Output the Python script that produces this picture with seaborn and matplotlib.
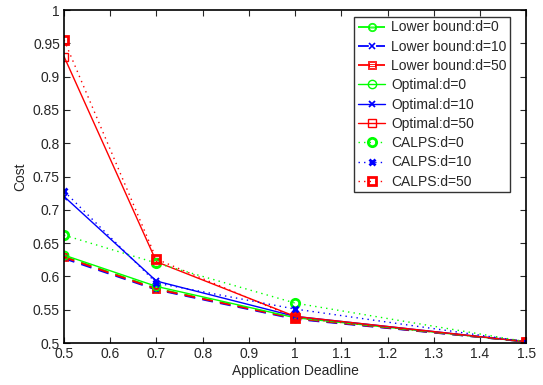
import pandas as pd
import matplotlib
matplotlib.use("Agg")
import matplotlib.pyplot as plt
import seaborn as sns

sns.set_style("ticks")
plt.rcParams["font.family"] = ["Liberation Sans", "DejaVu Sans"]

# ===============================
# Dados
# ===============================
deadline = [0.5, 0.7, 1.0, 1.5]

lower_d0 = [0.630, 0.582, 0.537, 0.502]
lower_d10 = [0.627, 0.580, 0.536, 0.502]
lower_d50 = [0.629, 0.581, 0.537, 0.502]

opt_d0 = [0.632, 0.585, 0.538, 0.502]
opt_d10 = [0.720, 0.593, 0.540, 0.502]
opt_d50 = [0.930, 0.622, 0.540, 0.502]

calps_d0 = [0.662, 0.620, 0.560, 0.502]
calps_d10 = [0.728, 0.590, 0.551, 0.502]
calps_d50 = [0.955, 0.626, 0.538, 0.502]

dashed = (0, (6, 4))
dotted = (0, (1, 3))

series = [
    ("Lower bound:d=0", lower_d0, "#00ff00", dashed, "$\\ominus$", 1.3, 6, 0.6),
    ("Lower bound:d=10", lower_d10, "#0000ff", dashed, "x", 1.3, 4, 1.2),
    ("Lower bound:d=50", lower_d50, "#ff0000", dashed, "$\\boxminus$", 1.3, 6, 0.6),
    ("Optimal:d=0", opt_d0, "#00ff00", "-", "o", 1.0, 6, 1.0),
    ("Optimal:d=10", opt_d10, "#0000ff", "-", "x", 1.0, 5, 1.3),
    ("Optimal:d=50", opt_d50, "#ff0000", "-", "s", 1.0, 6, 1.0),
    ("CALPS:d=0", calps_d0, "#00ff00", dotted, "o", 1.0, 6, 2.0),
    ("CALPS:d=10", calps_d10, "#0000ff", dotted, "x", 1.0, 5, 2.0),
    ("CALPS:d=50", calps_d50, "#ff0000", dotted, "s", 1.0, 6, 2.0),
]

# ===============================
# Plot
# ===============================
fig = plt.figure(figsize=(5.43, 3.85), dpi=100)
ax = fig.add_axes([0.118, 0.109, 0.851, 0.865])

for label, vals, color, ls, marker, lw, ms, mew in series:
    df = pd.DataFrame({"x": deadline, "y": vals})
    sns.lineplot(
        data=df, x="x", y="y", ax=ax, color=color, linewidth=lw,
        linestyle=ls, marker=marker, markersize=ms, markeredgewidth=mew,
        markerfacecolor="none", markeredgecolor=color, label=label,
    )

ax.set_xlim(0.5, 1.5)
ax.set_ylim(0.5, 1.0)
ax.set_xticks([0.5, 0.6, 0.7, 0.8, 0.9, 1.0, 1.1, 1.2, 1.3, 1.4, 1.5])
ax.set_xticklabels(["0.5", "0.6", "0.7", "0.8", "0.9", "1", "1.1", "1.2", "1.3", "1.4", "1.5"])
ax.set_yticks([0.5, 0.55, 0.6, 0.65, 0.7, 0.75, 0.8, 0.85, 0.9, 0.95, 1.0])
ax.set_yticklabels(["0.5", "0.55", "0.6", "0.65", "0.7", "0.75", "0.8", "0.85", "0.9", "0.95", "1"])
ax.tick_params(direction="in", top=True, right=True, labelsize=10, length=4, width=0.8, pad=3)
ax.set_xlabel("Application Deadline", fontsize=10, labelpad=2)
ax.set_ylabel("Cost", fontsize=10, labelpad=4)
for sp in ax.spines.values():
    sp.set_linewidth(1.2)
    sp.set_color("black")

leg = ax.legend(loc="upper right", bbox_to_anchor=(0.965, 0.979), fontsize=10,
                frameon=True, fancybox=False, handlelength=2.0, handletextpad=0.4,
                borderpad=0.25, labelspacing=0.38, borderaxespad=0.0)
leg.get_frame().set_edgecolor("black")
leg.get_frame().set_linewidth(1.0)

fig.savefig("out.png", dpi=100)
